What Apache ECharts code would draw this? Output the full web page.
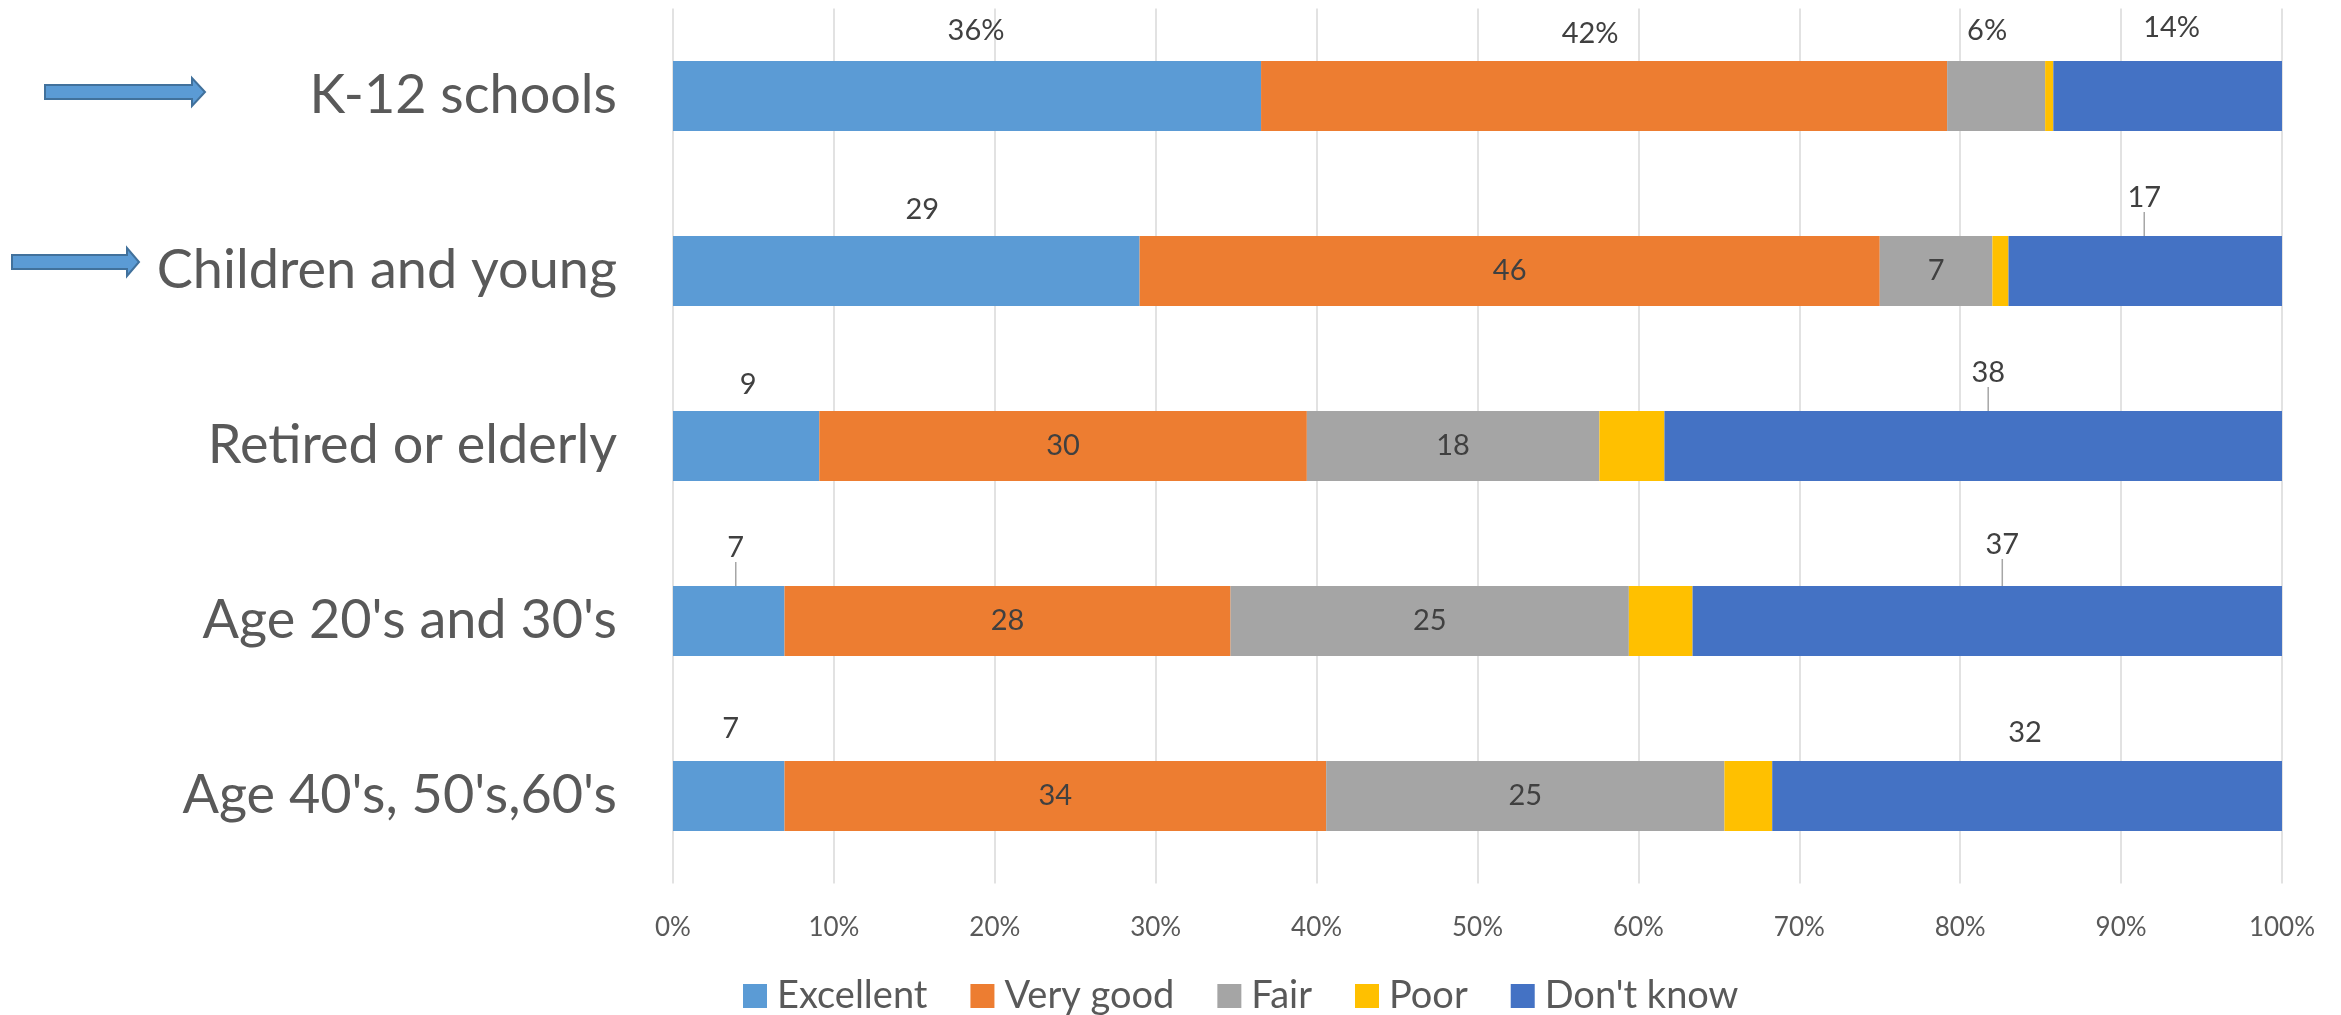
<!DOCTYPE html>
<html>
<head>
<meta charset="utf-8">
<script src="https://cdn.jsdelivr.net/npm/echarts@6/dist/echarts.min.js"></script>
<style>
html,body{margin:0;padding:0;background:#fff;}
#chart{width:2341px;height:1015px;}
</style>
</head>
<body>
<div id="chart"></div>
<script>
// ---- Data ----
const categories = ["K-12 schools", "Children and young", "Retired or elderly", "Age 20's and 30's", "Age 40's, 50's,60's"];
const seriesNames = ["Excellent", "Very good", "Fair", "Poor", "Don't know"];
const excellent = [36, 29, 9, 7, 7];
const veryGood  = [42, 46, 30, 28, 34];
const fair      = [6, 7, 18, 25, 25];
const poor      = [0.5, 1, 4, 4, 3];
const dontKnow  = [14, 17, 38, 37, 32];
const percentRows = [true, false, false, false, false]; // rows whose labels carry a % sign

// ---- Styling / label placement (not data) ----
const colors = ["#5B9BD5", "#ED7D31", "#A5A5A5", "#FFC000", "#4472C4"];
const FONT = "Lato";
// label placement per series per row: null = no label, 'inside', or ['top', dx, dy, leaderLine]
const labelPlace = [
  [['top', 9, -16, false], ['top', 16, -12, false], ['top', 2, -12, false], ['top', 7, -24, true], ['top', 2, -18, false]],
  [['top', -14, -13, false], 'inside', 'inside', 'inside', 'inside'],
  [['top', -9, -16, false], 'inside', 'inside', 'inside', 'inside'],
  [null, null, null, null, null],
  [['top', 4, -19, false], ['top', -1, -24, true], ['top', 15, -24, true], ['top', 15, -27, true], ['top', -2, -14, false]]
];

const raw = [excellent, veryGood, fair, poor, dontKnow];
const totals = categories.map((_, i) => raw.reduce((s, arr) => s + arr[i], 0));

const series = raw.map((arr, si) => {
  const data = arr.map((v, i) => {
    const place = labelPlace[si][i];
    const item = { value: v / totals[i] * 100 };
    const fmt = String(v) + (percentRows[i] ? '%' : '');
    if (place === null) {
      item.label = { show: false };
    } else if (place === 'inside') {
      item.label = { show: true, position: 'inside', formatter: fmt };
    } else {
      item.label = { show: true, position: 'top', distance: 0, formatter: fmt };
      item.labelLine = { show: place[3], lineStyle: { color: '#A6A6A6', width: 1.5 } };
    }
    return item;
  });
  return {
    name: seriesNames[si],
    type: 'bar',
    stack: 'total',
    barWidth: 70,
    itemStyle: { color: colors[si] },
    label: { fontFamily: FONT, fontSize: 29, color: '#404040' },
    labelLayout: function (p) {
      const place = labelPlace[si][p.dataIndex];
      if (Array.isArray(place)) return { dx: place[1], dy: place[2] };
      return {};
    },
    data: data
  };
});

const chart = echarts.init(document.getElementById('chart'));
chart.setOption({
  animation: false,
  backgroundColor: '#ffffff',
  grid: { left: 673, right: 59, top: 8.5, bottom: 131.5, containLabel: false },
  xAxis: {
    type: 'value', min: 0, max: 100, interval: 10,
    axisLine: { show: false }, axisTick: { show: false },
    splitLine: { show: true, lineStyle: { color: '#D9D9D9', width: 1.5 } },
    axisLabel: { formatter: '{value}%', fontFamily: FONT, fontSize: 26, color: '#595959', margin: 31 }
  },
  yAxis: {
    type: 'category', data: categories, inverse: true,
    axisLine: { show: false }, axisTick: { show: false },
    axisLabel: { fontFamily: FONT, fontSize: 54, color: '#595959', margin: 56 }
  },
  legend: {
    data: seriesNames, left: 738, top: 972,
    icon: 'rect', itemWidth: 24, itemHeight: 24, itemGap: 43,
    textStyle: { fontFamily: FONT, fontSize: 38, color: '#595959', padding: [0, 0, 0, 5] }
  },
  graphic: [
    { type: 'polygon', shape: { points: [[45,85],[192,85],[192,78],[205,92],[192,106],[192,99],[45,99]] },
      style: { fill: '#5B9BD5', stroke: '#41719C', lineWidth: 2 } },
    { type: 'polygon', shape: { points: [[12,255],[127,255],[127,248],[139,262],[127,276],[127,269],[12,269]] },
      style: { fill: '#5B9BD5', stroke: '#41719C', lineWidth: 2 } }
  ],
  series: series
});
</script>
</body>
</html>
